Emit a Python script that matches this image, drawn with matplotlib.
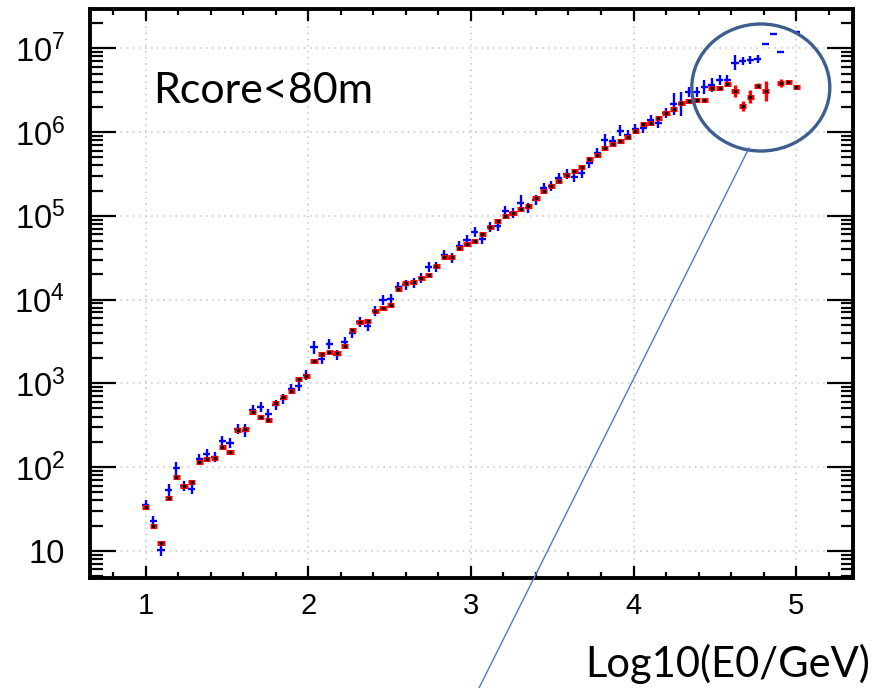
import numpy as np
import matplotlib
matplotlib.use("Agg")
import matplotlib.pyplot as plt
from matplotlib.patches import Ellipse
from matplotlib.lines import Line2D
from matplotlib.ticker import FixedLocator, FixedFormatter, MultipleLocator

# ---------------- data ----------------
log_e = [1.000, 1.047, 1.094, 1.141, 1.188, 1.235, 1.282, 1.329, 1.376, 1.424,
         1.471, 1.518, 1.565, 1.612, 1.659, 1.706, 1.753, 1.800, 1.847, 1.894,
         1.941, 1.988, 2.035, 2.082, 2.129, 2.176, 2.224, 2.271, 2.318, 2.365,
         2.412, 2.459, 2.506, 2.553, 2.600, 2.647, 2.694, 2.741, 2.788, 2.835,
         2.882, 2.929, 2.976, 3.024, 3.071, 3.118, 3.165, 3.212, 3.259, 3.306,
         3.353, 3.400, 3.447, 3.494, 3.541, 3.588, 3.635, 3.682, 3.729, 3.776,
         3.824, 3.871, 3.918, 3.965, 4.012, 4.059, 4.106, 4.153, 4.200, 4.247,
         4.294, 4.341, 4.388, 4.435, 4.482, 4.529, 4.576, 4.624, 4.671, 4.718,
         4.765, 4.812, 4.859, 4.906, 4.953, 5.000]

red_counts = [33, 20, 12.5, 43, 76, 59, 67, 114, 124, 128,
              175, 152, 277, 282, 458, 399, 367, 586, 685, 802,
              1125, 1233, 1832, 2239, 2344, 2301, 2793, 4335, 5358, 5546,
              7244, 7998, 8690, 13270, 15920, 16220, 17950, 19860, 25180, 32580,
              31990, 41400, 45810, 50580, 60260, 73110, 86900, 100500, 109100, 119900,
              132400, 163700, 200000, 229600, 263600, 308300, 341200, 387300, 476400, 534600,
              642700, 729400, 785200, 869000, 1.033e6, 1.265e6, 1.288e6, 1.479e6, 1.683e6, 1.879e6,
              2.234e6, 2.360e6, 2.449e6, 2.449e6, 3.350e6, 3.350e6, 3.767e6, 3.105e6, 2.065e6, 2.655e6,
              3.597e6, 3.133e6, np.nan, 3.837e6, 3.945e6, 3.499e6]

blue_counts = [35, 22.4, 10.3, 53, 96, 60, 54, 124, 142, 131,
               203, 192, 282, 272, 480, 516, 430, 551, 644, 847,
               935, 1256, 2692, 1936, 2951, 2158, 3112, 3954, 5445, 4842,
               7379, 9886, 10250, 14260, 14930, 15670, 18280, 24720, 24320, 33810,
               31120, 43650, 51520, 64710, 53460, 74300, 75680, 115300, 109100, 141600,
               123300, 154900, 217300, 229600, 281200, 319200, 293800, 322800, 424600, 555900,
               807200, 785200, 1.042e6, 933300, 1.091e6, 1.112e6, 1.387e6, 1.300e6, 1.683e6, 2.173e6,
               2.173e6, 3.0e6, 3.0e6, 3.443e6, 3.631e6, 4.207e6, 4.207e6, 6.761e6, 7.096e6, 7.295e6,
               7.499e6, 1.132e7, 1.479e7, 9.016e6, np.nan, 1.574e7]

# relative errors in decades (dex)
blue_err_dex = [0.06, 0.06, 0.08, 0.075, 0.075, 0.06, 0.06, 0.06, 0.06, 0.06,
                0.06, 0.06, 0.06, 0.075, 0.06, 0.06, 0.06, 0.06, 0.06, 0.06,
                0.06, 0.06, 0.08, 0.06, 0.06, 0.06, 0.06, 0.06, 0.06, 0.06,
                0.06, 0.06, 0.06, 0.06, 0.06, 0.06, 0.06, 0.06, 0.06, 0.06,
                0.06, 0.06, 0.06, 0.06, 0.06, 0.06, 0.06, 0.06, 0.06, 0.1,
                0.06, 0.06, 0.06, 0.06, 0.06, 0.06, 0.06, 0.06, 0.06, 0.06,
                0.07, 0.06, 0.07, 0.06, 0.06, 0.06, 0.06, 0.06, 0.06, 0.13,
                0.14, 0.06, 0.06, 0.08, 0.08, 0.06, 0.06, 0.09, 0.05, 0.05,
                0.05, 0.0, 0.0, 0.0, 0.0, 0.0]

red_err_dex = [0.0] * 74 + [0.02, 0.0, 0.03, 0.07, 0.06, 0.08, 0.035, 0.12, 0.0, 0.05, 0.0, 0.0]

half_bin = 0.022

x_ticks = [1, 2, 3, 4, 5]
x_tick_labels = ["1", "2", "3", "4", "5"]
y_ticks = [1e1, 1e2, 1e3, 1e4, 1e5, 1e6, 1e7]
y_tick_labels = ["10", r"$10^{2}$", r"$10^{3}$", r"$10^{4}$", r"$10^{5}$", r"$10^{6}$", r"$10^{7}$"]

# ---------------- figure ----------------
plt.rcParams['mathtext.fontset'] = 'custom'
plt.rcParams['mathtext.rm'] = 'Liberation Sans'
plt.rcParams['mathtext.it'] = 'Liberation Sans'
plt.rcParams['font.family'] = ['Liberation Sans', 'DejaVu Sans']

W, H = 874, 688
fig = plt.figure(figsize=(W / 100, H / 100), dpi=100)
ax = fig.add_axes([90 / W, 1 - 578 / H, (853 - 90) / W, (578 - 9) / H])

x = np.array(log_e)
rb = np.array(red_counts)
bb = np.array(blue_counts)
be = np.array(blue_err_dex)
re_ = np.array(red_err_dex)

# blue series: crosses (horizontal bin width + vertical error)
ax.errorbar(x, bb, xerr=half_bin, fmt='none', ecolor='#0000ff', elinewidth=1.7, capsize=0)
ax.errorbar(x, bb, yerr=[bb - bb * 10 ** (-be), bb * 10 ** be - bb], fmt='none',
            ecolor='#0000ff', elinewidth=1.7, capsize=0)

# red series: thick boxes + black centre dots
ax.errorbar(x, rb, yerr=[rb - rb * 10 ** (-re_), rb * 10 ** re_ - rb], fmt='none',
            ecolor='#ff0000', elinewidth=2.4, capsize=0)
ax.errorbar(x, rb, xerr=half_bin, fmt='none', ecolor='#ff0000', elinewidth=3.6, capsize=0)
ax.plot(x, rb, linestyle='none', marker='s', markersize=1.4, color='black')

ax.set_yscale('log')
ax.set_xlim(0.657, 5.35)
ax.set_ylim(10 ** 0.674, 10 ** 7.47)

ax.xaxis.set_major_locator(FixedLocator(x_ticks))
ax.xaxis.set_major_formatter(FixedFormatter(x_tick_labels))
ax.xaxis.set_minor_locator(MultipleLocator(0.2))
ax.yaxis.set_major_locator(FixedLocator(y_ticks))
ax.yaxis.set_major_formatter(FixedFormatter(y_tick_labels))
ax.yaxis.set_minor_locator(matplotlib.ticker.LogLocator(base=10, subs=np.arange(2, 10), numticks=20))
ax.yaxis.set_minor_formatter(matplotlib.ticker.NullFormatter())

ax.tick_params(axis='x', which='major', direction='in', length=8.5, width=1.6,
               top=True, bottom=True, labelsize=21, pad=10)
ax.tick_params(axis='x', which='minor', direction='in', length=4.3, width=1.6,
               top=True, bottom=True)
ax.tick_params(axis='y', which='major', direction='in', length=19, width=1.6,
               left=True, right=True, labelsize=23.5, pad=18)
ax.tick_params(axis='y', which='minor', direction='in', length=9, width=1.6,
               left=True, right=True)

for s in ax.spines.values():
    s.set_linewidth(2.8)

ax.grid(True, which='major', color='#c4c4c4', linestyle=(0, (1, 3)), linewidth=1.1)
ax.set_axisbelow(True)

fig.text(153 / W, 1 - 103 / H, "Rcore<80m",
         fontsize=31, family=['Lato', 'DejaVu Sans'], ha='left', va='baseline')
fig.text(870 / W, 1 - 677 / H, "Log10(E0/GeV)", fontsize=30,
         family=['Lato', 'DejaVu Sans'], ha='right', va='baseline')

# annotation overlay (circle + pointer line), in pixel coordinates
ov = fig.add_axes([0, 0, 1, 1], zorder=5)
ov.set_xlim(0, W)
ov.set_ylim(H, 0)
ov.axis('off')
ov.patch.set_alpha(0)
ov.add_patch(Ellipse((760.8, 87.5), 138, 127, fill=False, edgecolor='#3d5f8f', linewidth=2.4))
ov.add_line(Line2D([749, 477], [148, 692], color='#4a78c8', linewidth=1.0))

fig.savefig("out.png", dpi=100)
